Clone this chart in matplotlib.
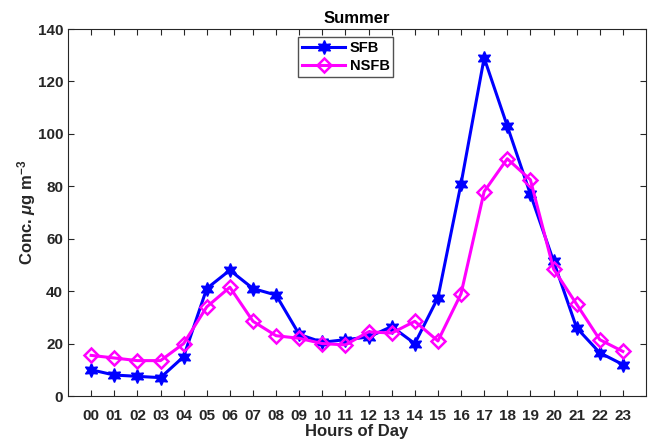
import numpy as np
import matplotlib
matplotlib.use("Agg")
import matplotlib.pyplot as plt

plt.rcParams['font.family'] = ['Liberation Sans', 'DejaVu Sans']
plt.rcParams['mathtext.fontset'] = 'custom'
plt.rcParams['mathtext.it'] = 'Liberation Sans:italic:bold'
plt.rcParams['mathtext.rm'] = 'Liberation Sans:bold'

hours = ["%02d" % h for h in range(24)]
sfb = [10, 8, 7.5, 7, 15, 41, 48, 41, 38.5, 23.5, 20.5, 21.5,
       22.5, 26.5, 20, 37.5, 81, 129, 103, 77, 51.5, 26, 16.5, 12]
nsfb = [15.5, 14.5, 13.5, 13.5, 20, 34, 41.5, 28.5, 23, 22, 20, 19.5,
        24.5, 24, 28.5, 21, 39, 78, 90.5, 82.5, 48.5, 35, 21.5, 17]

x = np.arange(len(hours))

fig = plt.figure(figsize=(6.51, 4.40), dpi=100)
ax = fig.add_axes([0.1045, 0.1, 0.8878, 0.834])

ax.plot(x, sfb, color=(0, 0, 1), linewidth=2.2, marker=(6, 1, 0),
        markersize=10, label="SFB")
ax.plot(x, nsfb, color=(1, 0, 1), linewidth=2.2, marker="D",
        markersize=7, markerfacecolor="none", markeredgewidth=1.8,
        label="NSFB")

ax.set_xlim(-1, 24)
ax.set_ylim(0, 140)
ax.set_xticks(x)
ax.set_xticklabels(hours)
ax.set_yticks(np.arange(0, 141, 20))
ax.tick_params(direction="in", top=True, right=True, length=4,
               labelsize=11, colors="#262626", labelcolor="#262626")
ax.tick_params(axis="x", pad=9)
for lab in ax.get_xticklabels() + ax.get_yticklabels():
    lab.set_fontweight("bold")
for sp in ax.spines.values():
    sp.set_color("#262626")

ax.set_xlabel("Hours of Day", fontsize=12, fontweight="bold", color="#262626",
              labelpad=1)
ax.set_ylabel(r"Conc. $\mu$g m$^{-3}$", fontsize=12, fontweight="bold",
              color="#262626", labelpad=0)
ax.set_title("Summer", fontsize=12, fontweight="bold", pad=4)

leg = ax.legend(loc="upper left", bbox_to_anchor=(0.398, 0.978), fancybox=False,
                edgecolor="#262626", fontsize=10.5, handlelength=3.0,
                handletextpad=0.3, borderpad=0.25, labelspacing=0.3,
                borderaxespad=0)
for t in leg.get_texts():
    t.set_fontweight("bold")
leg.get_frame().set_linewidth(1.0)

fig.savefig("out.png", dpi=100)
